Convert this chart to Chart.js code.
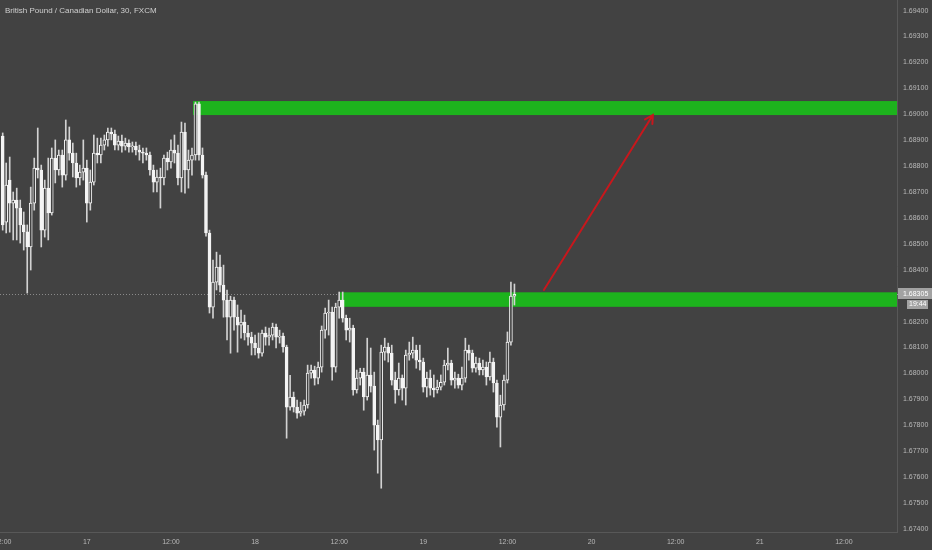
<!DOCTYPE html>
<html>
<head>
<meta charset="utf-8">
<script src="https://cdn.jsdelivr.net/npm/chart.js@4.4.0/dist/chart.umd.min.js"></script>
<style>
  html, body { margin: 0; padding: 0; background: #424242; }
  canvas { display: block; }
</style>
</head>
<body>
<canvas id="chart" width="932" height="550"></canvas>
<script>
const title = 'British Pound / Canadian Dollar, 30, FXCM';

// 30 minute candles, first one at 16th 12:00
const opens = [1.68916, 1.68584, 1.68746, 1.68657, 1.68669, 1.68638, 1.68573, 1.68546, 1.68488, 1.68657,
  1.68792, 1.68785, 1.68553, 1.68715, 1.68619, 1.68831, 1.68785, 1.68843, 1.68765, 1.68901,
  1.68850, 1.68812, 1.68754, 1.68777, 1.68792, 1.68657, 1.68738, 1.68850, 1.68843, 1.68881,
  1.68901, 1.68931, 1.68924, 1.68881, 1.68897, 1.68877, 1.68889, 1.68874, 1.68877, 1.68862,
  1.68854, 1.68850, 1.68843, 1.68785, 1.68738, 1.68758, 1.68754, 1.68831, 1.68816, 1.68862,
  1.68850, 1.68754, 1.68931, 1.68785, 1.68823, 1.68843, 1.69040, 1.68843, 1.68765, 1.68542,
  1.68256, 1.68352, 1.68410, 1.68341, 1.68283, 1.68217, 1.68283, 1.68217, 1.68186, 1.68198,
  1.68156, 1.68140, 1.68117, 1.68098, 1.68078, 1.68156, 1.68140, 1.68148, 1.68179, 1.68140,
  1.68144, 1.68102, 1.67870, 1.67909, 1.67870, 1.67847, 1.67854, 1.67878, 1.68001, 1.68013,
  1.67982, 1.68024, 1.68167, 1.68233, 1.68237, 1.68024, 1.68256, 1.68283, 1.68213, 1.68167,
  1.68175, 1.67936, 1.67982, 1.68005, 1.67909, 1.67994, 1.67951, 1.67800, 1.67743, 1.68082,
  1.68102, 1.68078, 1.67974, 1.67936, 1.67982, 1.67943, 1.68071, 1.68078, 1.68090, 1.68051,
  1.68044, 1.67947, 1.67982, 1.67943, 1.67936, 1.67947, 1.67966, 1.68032, 1.68040, 1.67974,
  1.67982, 1.67955, 1.67982, 1.68090, 1.68078, 1.68020, 1.68040, 1.68013, 1.68024, 1.67986,
  1.68044, 1.67963, 1.67831, 1.67878, 1.67974, 1.68121, 1.68298];
const highs = [1.68928, 1.68812, 1.68835, 1.68700, 1.68715, 1.68669, 1.68623, 1.68573, 1.68719, 1.68831,
  1.68947, 1.68804, 1.68746, 1.68831, 1.68870, 1.68901, 1.68862, 1.68862, 1.68978, 1.68951,
  1.68889, 1.68850, 1.68804, 1.68901, 1.68823, 1.68785, 1.68920, 1.68908, 1.68908, 1.68920,
  1.68947, 1.68947, 1.68939, 1.68916, 1.68920, 1.68908, 1.68901, 1.68893, 1.68893, 1.68881,
  1.68870, 1.68870, 1.68854, 1.68804, 1.68785, 1.68792, 1.68843, 1.68854, 1.68901, 1.68920,
  1.68881, 1.68970, 1.68966, 1.68862, 1.68870, 1.69047, 1.69047, 1.68870, 1.68777, 1.68553,
  1.68437, 1.68468, 1.68457, 1.68418, 1.68322, 1.68298, 1.68295, 1.68264, 1.68244, 1.68225,
  1.68186, 1.68159, 1.68148, 1.68156, 1.68167, 1.68179, 1.68175, 1.68194, 1.68190, 1.68167,
  1.68156, 1.68109, 1.67993, 1.67928, 1.67897, 1.67889, 1.67897, 1.68032, 1.68032, 1.68028,
  1.68044, 1.68183, 1.68252, 1.68283, 1.68256, 1.68271, 1.68314, 1.68314, 1.68225, 1.68213,
  1.68186, 1.68013, 1.68020, 1.68020, 1.68136, 1.68098, 1.68005, 1.67820, 1.68109, 1.68136,
  1.68117, 1.68109, 1.68005, 1.68040, 1.67994, 1.68090, 1.68121, 1.68140, 1.68109, 1.68109,
  1.68059, 1.68005, 1.68013, 1.67994, 1.67974, 1.67994, 1.68051, 1.68098, 1.68051, 1.68005,
  1.67997, 1.68024, 1.68136, 1.68109, 1.68090, 1.68063, 1.68059, 1.68051, 1.68044, 1.68082,
  1.68059, 1.67974, 1.67916, 1.67994, 1.68160, 1.68352, 1.68345];
const lows = [1.68553, 1.68542, 1.68545, 1.68515, 1.68515, 1.68503, 1.68476, 1.68310, 1.68399, 1.68630,
  1.68754, 1.68488, 1.68526, 1.68515, 1.68611, 1.68735, 1.68765, 1.68719, 1.68746, 1.68823,
  1.68758, 1.68719, 1.68727, 1.68746, 1.68584, 1.68630, 1.68727, 1.68812, 1.68812, 1.68862,
  1.68877, 1.68901, 1.68862, 1.68862, 1.68854, 1.68862, 1.68854, 1.68854, 1.68843, 1.68823,
  1.68812, 1.68823, 1.68765, 1.68700, 1.68700, 1.68638, 1.68727, 1.68785, 1.68792, 1.68812,
  1.68727, 1.68700, 1.68696, 1.68715, 1.68765, 1.68823, 1.68823, 1.68754, 1.68530, 1.68233,
  1.68213, 1.68322, 1.68314, 1.68217, 1.68129, 1.68078, 1.68167, 1.68082, 1.68136, 1.68129,
  1.68109, 1.68071, 1.68071, 1.68059, 1.68067, 1.68109, 1.68109, 1.68129, 1.68098, 1.68117,
  1.68082, 1.67750, 1.67858, 1.67851, 1.67827, 1.67835, 1.67839, 1.67866, 1.67982, 1.67955,
  1.67959, 1.68005, 1.68136, 1.68148, 1.67974, 1.68005, 1.68213, 1.68198, 1.68129, 1.68121,
  1.67916, 1.67924, 1.67955, 1.67858, 1.67897, 1.67928, 1.67704, 1.67615, 1.67557, 1.68051,
  1.68044, 1.67955, 1.67885, 1.67916, 1.67897, 1.67878, 1.68051, 1.68059, 1.68020, 1.68013,
  1.67928, 1.67909, 1.67916, 1.67909, 1.67924, 1.67936, 1.67955, 1.68013, 1.67955, 1.67943,
  1.67943, 1.67936, 1.67966, 1.68051, 1.68005, 1.68005, 1.67994, 1.67994, 1.67955, 1.67974,
  1.67928, 1.67793, 1.67716, 1.67858, 1.67963, 1.68109, 1.68264];
const closes = [1.68573, 1.68727, 1.68657, 1.68669, 1.68638, 1.68573, 1.68546, 1.68488, 1.68657, 1.68792,
  1.68785, 1.68553, 1.68715, 1.68619, 1.68831, 1.68785, 1.68843, 1.68765, 1.68901, 1.68850,
  1.68812, 1.68754, 1.68777, 1.68792, 1.68657, 1.68738, 1.68850, 1.68843, 1.68881, 1.68901,
  1.68931, 1.68924, 1.68881, 1.68897, 1.68877, 1.68889, 1.68874, 1.68877, 1.68862, 1.68854,
  1.68850, 1.68843, 1.68785, 1.68738, 1.68758, 1.68754, 1.68831, 1.68816, 1.68862, 1.68850,
  1.68754, 1.68931, 1.68785, 1.68823, 1.68843, 1.69040, 1.68843, 1.68765, 1.68542, 1.68256,
  1.68352, 1.68410, 1.68341, 1.68283, 1.68217, 1.68283, 1.68217, 1.68186, 1.68198, 1.68156,
  1.68140, 1.68117, 1.68098, 1.68078, 1.68156, 1.68140, 1.68148, 1.68179, 1.68140, 1.68144,
  1.68102, 1.67870, 1.67909, 1.67870, 1.67847, 1.67854, 1.67878, 1.68001, 1.68013, 1.67982,
  1.68024, 1.68167, 1.68233, 1.68237, 1.68024, 1.68256, 1.68283, 1.68213, 1.68167, 1.68175,
  1.67936, 1.67982, 1.68005, 1.67909, 1.67994, 1.67951, 1.67800, 1.67743, 1.68082, 1.68102,
  1.68078, 1.67974, 1.67936, 1.67982, 1.67943, 1.68071, 1.68078, 1.68090, 1.68051, 1.68044,
  1.67947, 1.67982, 1.67943, 1.67936, 1.67947, 1.67966, 1.68032, 1.68040, 1.67974, 1.67982,
  1.67955, 1.67982, 1.68090, 1.68078, 1.68020, 1.68040, 1.68013, 1.68024, 1.67986, 1.68044,
  1.67963, 1.67831, 1.67878, 1.67974, 1.68121, 1.68298, 1.68305];

const xTickPositions = [0, 24, 48, 72, 96, 120, 144, 168, 192, 216, 240];
const xTickLabels = ['12:00', '17', '12:00', '18', '12:00', '19', '12:00', '20', '12:00', '21', '12:00'];
const yTicks = [1.674, 1.675, 1.676, 1.677, 1.678, 1.679, 1.680, 1.681, 1.682, 1.683, 1.684,
  1.685, 1.686, 1.687, 1.688, 1.689, 1.690, 1.691, 1.692, 1.693, 1.694];

const lastPrice = 1.68305;
const countdown = '19:44';

// green zones: start (candle index), top and bottom price
const zoneStart = [54.3, 96.2];
const zoneTop = [1.69051, 1.68313];
const zoneBottom = [1.68997, 1.68257];

// red arrow [candle index, price]
const arrowFrom = [154.4, 1.68322];
const arrowTo = [185.5, 1.68997];

const BG = '#424242';
const labelFont = { family: 'Liberation Sans', size: 7 };

const wicks = highs.map((h, i) => ({ x: i, y: [lows[i], h] }));
const bodies = opens.map((o, i) => ({ x: i, y: [Math.min(o, closes[i]), Math.max(o, closes[i])] }));
const bodyFill = opens.map((o, i) => closes[i] > o ? BG : '#f4f4f4');

const overlay = {
    id: 'overlay',
    beforeDatasetsDraw(chart) {
        const { ctx, chartArea: a, scales: { x, y } } = chart;
        ctx.save();
        // dotted last price line
        const py = Math.round(y.getPixelForValue(lastPrice)) + 0.5;
        ctx.strokeStyle = '#8a8a8a';
        ctx.lineWidth = 1;
        ctx.setLineDash([1, 2]);
        ctx.beginPath();
        ctx.moveTo(a.left, py);
        ctx.lineTo(a.right, py);
        ctx.stroke();
        ctx.setLineDash([]);
        // zones
        zoneStart.forEach((s, i) => {
            const x0 = x.getPixelForValue(s);
            const y0 = y.getPixelForValue(zoneTop[i]);
            const y1 = y.getPixelForValue(zoneBottom[i]);
            ctx.fillStyle = '#1db31d';
            ctx.fillRect(x0, y0, a.right - x0, y1 - y0);
        });
        ctx.restore();
    },
    afterDatasetsDraw(chart) {
        const { ctx, scales: { x, y } } = chart;
        const x0 = x.getPixelForValue(arrowFrom[0]), y0 = y.getPixelForValue(arrowFrom[1]);
        const x1 = x.getPixelForValue(arrowTo[0]), y1 = y.getPixelForValue(arrowTo[1]);
        const ang = Math.atan2(y1 - y0, x1 - x0);
        ctx.save();
        ctx.strokeStyle = '#c8171c';
        ctx.lineWidth = 2;
        ctx.lineCap = 'round';
        ctx.beginPath();
        ctx.moveTo(x0, y0);
        ctx.lineTo(x1, y1);
        ctx.moveTo(x1 - 9 * Math.cos(ang - 0.5), y1 - 9 * Math.sin(ang - 0.5));
        ctx.lineTo(x1, y1);
        ctx.lineTo(x1 - 9 * Math.cos(ang + 0.5), y1 - 9 * Math.sin(ang + 0.5));
        ctx.stroke();
        ctx.restore();
    },
    afterDraw(chart) {
        const { ctx, chartArea: a, scales: { y } } = chart;
        ctx.save();
        // title
        ctx.fillStyle = '#cfcfcf';
        ctx.font = '8px "Liberation Sans"';
        ctx.textBaseline = 'middle';
        ctx.textAlign = 'left';
        ctx.fillText(title, 5, 11);
        // last price label + countdown
        const py = Math.round(y.getPixelForValue(lastPrice));
        ctx.fillStyle = '#a2a2a2';
        ctx.fillRect(a.right + 1, py - 6, chart.width - a.right - 1, 11);
        ctx.fillRect(a.right + 10, py + 6, 21, 9);
        ctx.fillRect(a.right, py, 3, 1);
        ctx.fillStyle = '#ffffff';
        ctx.font = '7px "Liberation Sans"';
        ctx.fillText(lastPrice.toFixed(5), a.right + 6, py);
        ctx.fillText(countdown, a.right + 12, py + 10.5);
        ctx.restore();
    }
};

new Chart(document.getElementById('chart'), {
    type: 'bar',
    data: {
        datasets: [
            {
                data: wicks,
                backgroundColor: '#d2d2d2',
                borderWidth: 0,
                barThickness: 1,
                grouped: false,
                order: 2
            },
            {
                data: bodies,
                backgroundColor: bodyFill,
                borderColor: '#f4f4f4',
                borderWidth: 1,
                borderSkipped: false,
                barThickness: 3,
                minBarLength: 1,
                grouped: false,
                order: 1
            }
        ]
    },
    options: {
        responsive: false,
        animation: false,
        events: [],
        layout: { padding: 0 },
        plugins: {
            legend: { display: false },
            tooltip: { enabled: false },
            title: { display: false }
        },
        scales: {
            x: {
                type: 'linear',
                min: -0.77,
                max: 255.15,
                offset: false,
                grid: { display: false, drawTicks: false },
                border: { display: true, color: '#585858' },
                ticks: {
                    color: '#b8b8b8',
                    font: labelFont,
                    padding: 6,
                    maxRotation: 0,
                    autoSkip: false,
                    callback: (v, i) => xTickLabels[i]
                },
                afterBuildTicks: s => { s.ticks = xTickPositions.map(v => ({ value: v })); },
                afterFit: s => { s.height = 18; s.paddingLeft = 0; s.paddingRight = 0; }
            },
            y: {
                type: 'linear',
                position: 'right',
                min: 1.67388,
                max: 1.69441,
                grid: { display: false, drawTicks: false },
                border: { display: true, color: '#585858' },
                ticks: {
                    color: '#b8b8b8',
                    font: labelFont,
                    padding: 6,
                    callback: v => v.toFixed(5)
                },
                afterBuildTicks: s => { s.ticks = yTicks.map(v => ({ value: v })); },
                afterFit: s => { s.width = 35; s.paddingTop = 0; s.paddingBottom = 0; }
            }
        }
    },
    plugins: [overlay]
});
</script>
</body>
</html>
